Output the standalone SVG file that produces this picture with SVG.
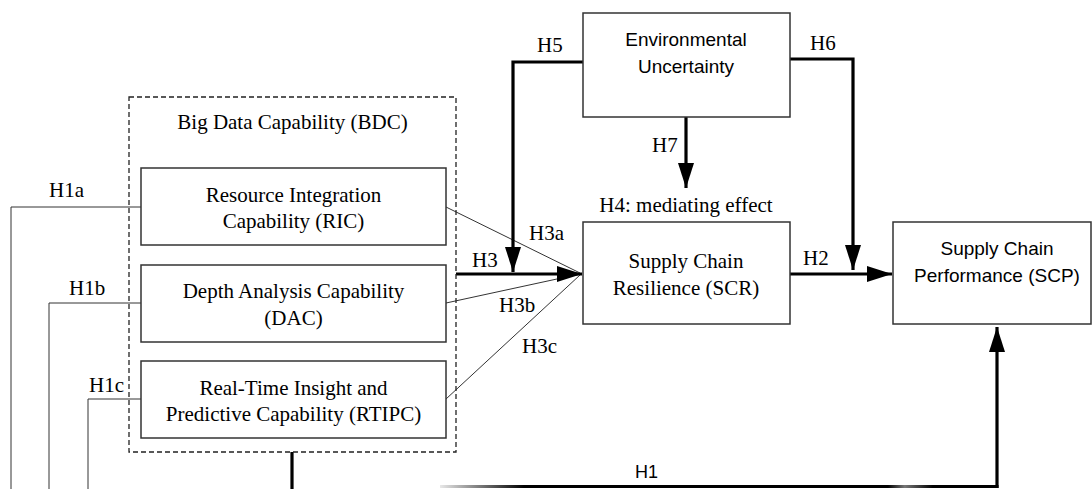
<svg xmlns="http://www.w3.org/2000/svg" width="1092" height="489" viewBox="0 0 1092 489">
<style>
.box{fill:#fff;stroke:#333;stroke-width:1.5}
.dash{fill:none;stroke:#222;stroke-width:1.3;stroke-dasharray:5,3}
.serif{font-family:"Liberation Serif","Times New Roman",serif;font-size:21px;fill:#000}
.sans{font-family:"Liberation Sans",Arial,sans-serif;font-size:19px;fill:#000}
.mid{text-anchor:middle}
.thin{fill:none;stroke:#333;stroke-width:1}
.thick{fill:none;stroke:#000;stroke-width:3.2}
</style>
<defs>
<marker id="ah" markerUnits="userSpaceOnUse" markerWidth="26" markerHeight="17" refX="25" refY="8" orient="auto">
<path d="M0,0 L25,8 L0,16 z" fill="#000"/>
</marker>
<linearGradient id="fade" gradientUnits="userSpaceOnUse" x1="440" y1="0" x2="1000" y2="0">
<stop offset="0" stop-color="#e8e8e8"/>
<stop offset="0.15" stop-color="#000"/>
<stop offset="0.8" stop-color="#000"/>
<stop offset="0.83" stop-color="#777"/>
<stop offset="0.88" stop-color="#000"/>
<stop offset="1" stop-color="#000"/>
</linearGradient>
</defs>
<g id="connectors">
<path class="thin" d="M141,207 H11 V489"/>
<path class="thin" d="M141,303 H49 V489"/>
<path class="thin" d="M141,399 H88 V489"/>
<line class="thin" x1="446" y1="207" x2="580" y2="273"/>
<line class="thin" x1="446" y1="303" x2="580" y2="274"/>
<line class="thin" x1="446" y1="399" x2="580" y2="275"/>
<line class="thick" x1="456" y1="274" x2="582" y2="274" marker-end="url(#ah)"/>
<path class="thick" d="M583,62 H513 V272" marker-end="url(#ah)"/>
<path class="thick" d="M790,59 H853 V270" marker-end="url(#ah)"/>
<line class="thick" x1="686" y1="117" x2="686" y2="188" marker-end="url(#ah)"/>
<line class="thick" x1="790" y1="274" x2="892" y2="274" marker-end="url(#ah)"/>
<line class="thick" x1="292" y1="452" x2="292" y2="489"/>
<line x1="440" y1="486.5" x2="998.5" y2="486.5" stroke="url(#fade)" stroke-width="3.2"/>
<line class="thick" x1="997" y1="488" x2="997" y2="327" marker-end="url(#ah)"/>
<text class="serif" x="49" y="197">H1a</text>
<text class="serif" x="69" y="295">H1b</text>
<text class="serif" x="89" y="392">H1c</text>
<text class="serif" x="537" y="52">H5</text>
<text class="serif" x="810" y="50">H6</text>
<text class="serif" x="652" y="152">H7</text>
<text class="serif" x="529" y="240">H3a</text>
<text class="serif" x="472" y="267">H3</text>
<text class="serif" x="499" y="312">H3b</text>
<text class="serif" x="522" y="353">H3c</text>
<text class="serif" x="803" y="265">H2</text>
<text class="sans" x="635" y="478" style="font-size:18px">H1</text>
</g>
<g id="bdc">
<rect class="dash" x="129" y="97" width="327" height="355"/>
<text class="serif mid" x="292.5" y="129">Big Data Capability (BDC)</text>
</g>
<g id="ric">
<rect class="box" x="141" y="168" width="305" height="77"/>
<text class="serif mid" x="293.5" y="202">Resource Integration</text>
<text class="serif mid" x="293.5" y="228">Capability (RIC)</text>
</g>
<g id="dac">
<rect class="box" x="141" y="265" width="305" height="77"/>
<text class="serif mid" x="293.5" y="298">Depth Analysis Capability</text>
<text class="serif mid" x="293.5" y="325">(DAC)</text>
</g>
<g id="rtipc">
<rect class="box" x="141" y="361" width="305" height="77"/>
<text class="serif mid" x="293.5" y="395">Real-Time Insight and</text>
<text class="serif mid" x="293.5" y="421">Predictive Capability (RTIPC)</text>
</g>
<g id="eu">
<rect class="box" x="583" y="13" width="207" height="104"/>
<text class="sans mid" x="686" y="46">Environmental</text>
<text class="sans mid" x="686" y="73">Uncertainty</text>
</g>
<g id="scr">
<text class="serif mid" x="686" y="212">H4: mediating effect</text>
<rect class="box" x="583" y="222" width="207" height="102"/>
<text class="serif mid" x="686" y="268">Supply Chain</text>
<text class="serif mid" x="686" y="295">Resilience (SCR)</text>
</g>
<g id="scp">
<rect class="box" x="893" y="222" width="198" height="102"/>
<text class="sans mid" x="997" y="255">Supply Chain</text>
<text class="sans mid" x="997" y="282">Performance (SCP)</text>
</g>
</svg>
